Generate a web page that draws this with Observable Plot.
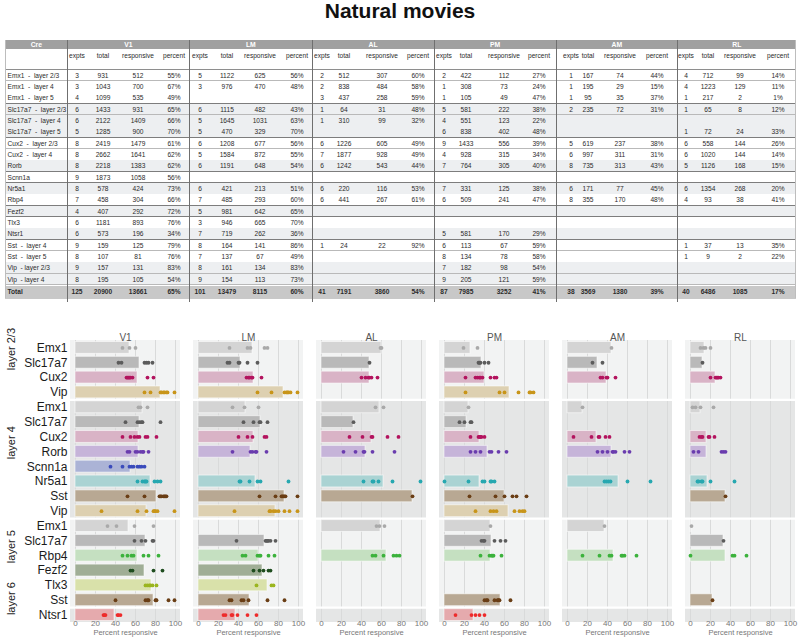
<!DOCTYPE html>
<html><head><meta charset="utf-8">
<script src="https://cdn.jsdelivr.net/npm/d3@7"></script>
<script src="https://cdn.jsdelivr.net/npm/@observablehq/plot@0.6"></script>
<style>
html,body{margin:0;padding:0;width:800px;height:637px;overflow:hidden;background:#fff;font-family:"Liberation Sans",Arial,Helvetica,sans-serif;}
#title{position:absolute;left:0;top:0;width:800px;text-align:center;font-weight:bold;font-size:21px;line-height:22px;color:#111;}
#table{position:absolute;left:0;top:0;width:800px;height:305px;}
#table div{position:absolute;box-sizing:border-box;}
.t{white-space:pre;overflow:visible;}
#chart{position:absolute;left:0;top:305px;}
</style></head><body>
<div id="title">Natural movies</div>
<div id="table"></div>
<div id="chart"></div>
<script>
// ---------------- DATA ----------------
const areas = ["V1", "LM", "AL", "PM", "AM", "RL"];
const subHeaders = ["expts", "total", "responsive", "percent"];

// table rows (table order)
const tableCre = ["Emx1  -  layer 2/3","Emx1  -  layer 4","Emx1  -  layer 5","Slc17a7  -  layer 2/3","Slc17a7  -  layer 4","Slc17a7  -  layer 5","Cux2  -  layer 2/3","Cux2  -  layer 4","Rorb","Scnn1a","Nr5a1","Rbp4","Fezf2","Tlx3","Ntsr1","Sst  -  layer 4","Sst  -  layer 5","Vip  - layer 2/3","Vip  - layer 4"];
// [expts, total, responsive, percent]
const tableV1 = [[3,931,512,55],[3,1043,700,67],[4,1099,535,49],[6,1433,931,65],[6,2122,1409,66],[5,1285,900,70],[8,2419,1479,61],[8,2662,1641,62],[8,2218,1383,62],[9,1873,1058,56],[8,578,424,73],[7,458,304,66],[4,407,292,72],[6,1181,893,76],[6,573,196,34],[9,159,125,79],[8,107,81,76],[9,157,131,83],[8,195,105,54]];
const tableLM = [[5,1122,625,56],[3,976,470,48],null,[6,1115,482,43],[5,1645,1031,63],[5,470,329,70],[6,1208,677,56],[5,1584,872,55],[6,1191,648,54],null,[6,421,213,51],[7,485,293,60],[5,981,642,65],[3,946,665,70],[7,719,262,36],[8,164,141,86],[7,137,67,49],[8,161,134,83],[9,154,113,73]];
const tableAL = [[2,512,307,60],[2,838,484,58],[3,437,258,59],[1,64,31,48],[1,310,99,32],null,[6,1226,605,49],[7,1877,928,49],[6,1242,543,44],null,[6,220,116,53],[6,441,267,61],null,null,null,[1,24,22,92],null,null,null];
const tablePM = [[2,422,112,27],[1,308,73,24],[1,105,49,47],[5,581,222,38],[4,551,123,22],[6,838,402,48],[9,1433,556,39],[4,928,315,34],[7,764,305,40],null,[7,331,125,38],[6,509,241,47],null,null,[5,581,170,29],[6,113,67,59],[8,134,78,58],[7,182,98,54],[9,205,121,59]];
const tableAM = [[1,167,74,44],[1,195,29,15],[1,95,35,37],[2,235,72,31],null,null,[5,619,237,38],[6,997,311,31],[8,735,313,43],null,[6,171,77,45],[8,355,170,48],null,null,null,null,null,null,null];
const tableRL = [[4,712,99,14],[4,1223,129,11],[1,217,2,1],[1,65,8,12],null,[1,72,24,33],[6,558,144,26],[6,1020,144,14],[5,1126,168,15],null,[6,1354,268,20],[4,93,38,41],null,null,null,[1,37,13,35],[1,9,2,22],null,null];
const tableTotals = [[125,20900,13661,65],[101,13479,8115,60],[41,7191,3860,54],[87,7985,3252,41],[38,3569,1380,39],[40,6486,1085,17]];

// chart rows (chart order)
const rowCre = ["Emx1","Slc17a7","Cux2","Vip","Emx1","Slc17a7","Cux2","Rorb","Scnn1a","Nr5a1","Sst","Vip","Emx1","Slc17a7","Rbp4","Fezf2","Tlx3","Sst","Ntsr1"];
const layerNames = ["layer 2/3", "layer 4", "layer 5", "layer 6"];
const layerRowCounts = [4, 8, 6, 1];

// mean percent responsive (bar) per chart row
const barsV1 = [54,64,62,85,67,64,63,63,55,75,81,71,53,70,62,69,76,78,39];
const barsLM = [54,42,55,85,47,62,55,52,null,57,86,77,null,66,60,64,69,51,37];
const barsAL = [60,48,48,null,58,32,50,44,null,62,91,null,59,null,65,null,null,null,null];
const barsPM = [26,37,40,65,24,22,35,43,null,35,60,64,46,47,46,null,null,56,29];
const barsAM = [44,30,39,null,15,null,29,44,null,51,null,null,37,null,46,null,null,null,null];
const barsRL = [14,12,25,null,10,null,16,16,null,17,35,null,1,33,35,null,null,22,null];

// per-experiment percent responsive (dots) per chart row
const dotsV1 = [[47,54,60],[43,46,69,71,73,77],[51,52,53,54,55,57,72,78],[69,75,85,86,88,89,91,92,99],[63,65,72],[50,62,64,66,67,85],[47,55,59,62,64,70,72,81],[52,54,60,62,65,67,68,73],[35,47,54,56,58,62,64,66,69],[62,67,69,70,71,79,82,85],[52,69,84,85,86,88,89,90,91],[26,62,71,78,79,80,82,99],[32,41,59,78],[59,66,70,77,78],[47,52,56,58,68,73,83],[55,57,78,87],[70,72,74,75,77,81],[40,70,72,73,80,81,93,99],[28,29,30,42,43,45]];
const dotsLM = [[31,49,52,66,69],[29,31,40,41,49,59],[48,50,51,53,54,63],[59,73,86,88,89,90,92,99],[34,46,60],[45,55,61,62,69],[40,49,54,66,68],[34,52,54,57,58,68],[],[41,42,51,59,62,90],[61,77,83,84,85,86,87,99],[36,71,72,75,77,80,86,91,99],[],[38,67,68,69,70,72,77],[44,47,59,61,62,70,76],[55,61,65,70,72],[58,73,75],[31,33,43,45,50,69,86],[25,27,33,34,39,49,58]];
const dotsAL = [[59,60],[48],[40,44,47,48,50,56],[],[54,62],[32],[28,41,50,51,66,77],[22,34,42,43,51,73],[],[42,51,52,57,71,99],[91],[],[55,58,63],[],[51,54,62,72,75,78],[],[],[],[]];
const dotsPM = [[19,33],[34,35,36,40,44],[21,31,33,35,36,38,46,50,52],[21,55,60,74,85,86,89],[24],[15,20,26,27],[26,34,35,36,37,40],[26,31,36,45,47,54,62],[],[0,24,38,40,46,47,50],[25,51,60,68,72,82],[31,46,49,52,70,75,78,80],[46],[37,39,40,50,56,61],[36,45,47,48,49,57],[],[],[40,42,43,50,53,54,55,66],[11,27,31,35,40]];
const dotsAM = [[44],[25,35],[33,35,39,40,48],[],[15],[],[6,24,31,32,38,42],[30,35,40,45,46,48,57,62],[],[37,39,41,43,60,83],[],[],[37],[],[15,32,42,44,54,55,57,69],[],[],[],[]];
const dotsRL = [[10,13,15,20],[12],[20,25,26,27,28,30],[],[2,5,10,23],[],[9,11,12,18,19,24],[3,8,31,33,35],[],[7,8,11,12,20,44],[35],[],[1],[33],[0,42,44,56],[],[],[22],[]];

const xTicks = [0, 20, 40, 60, 80, 100];

// ---------------- STYLES ----------------
const creNames = ["Emx1","Slc17a7","Cux2","Vip","Rorb","Scnn1a","Nr5a1","Sst","Rbp4","Fezf2","Tlx3","Ntsr1"];
const creColors = ["#a9a9a9","#5c5c5c","#b3135e","#c8951a","#6a3cae","#3a4bbb","#27a8b0","#6a3e15","#3cb23c","#1f4d1f","#9bb51f","#ee2b2b"];
const creBarColors = ["#d4d4d4","#b9b9b9","#d9b3c6","#ddd0b1","#c6b4d9","#abb3d6","#aad3d3","#b8a893","#c5e0c1","#a0ae96","#d9e1aa","#e5aaad"];
const layerFills = ["#f2f3f3","#e5e6e6","#f2f3f3","#e5e6e6"];
const colorOf = c => creColors[creNames.indexOf(c)];
const barColorOf = c => creBarColors[creNames.indexOf(c)];

// ---------------- TABLE ----------------
const tableAreas = [tableV1, tableLM, tableAL, tablePM, tableAM, tableRL];
const divX = [67.7, 189.3, 312.3, 434, 556, 677.7];
const subX = [[77,103,138,174],[200,227,260,297],[322,344,382,418],[444,466,504,539],[571,588,620,657],[686,708,740,778]];
const tLeft = 5, tRight = 796;
const tbl = document.getElementById("table");
function el(css, text, cls) {
  const d = document.createElement("div");
  if (cls) d.className = cls;
  Object.assign(d.style, css);
  if (text != null) d.textContent = text;
  tbl.appendChild(d);
  return d;
}
function box(x, y, w, h, bg) {
  return el({left: x + "px", top: y + "px", width: w + "px", height: h + "px", background: bg});
}
function label(x, y, s, o = {}) {
  const align = o.align || "center", w = 100;
  const left = align === "center" ? x - w / 2 : align === "left" ? x : x - w;
  return el({left: left + "px", top: (y - 5) + "px", width: w + "px", height: "10px", lineHeight: "10px",
    textAlign: align, color: o.color || "#2b2b2b", fontWeight: o.bold ? "bold" : "normal",
    fontSize: (o.size || 6.6) + "px"}, s, "t");
}
const rowH = 11.33, rowTop0 = 69.7;
// header 1
box(tLeft, 40, tRight - tLeft, 9.2, "#a0a0a0");
label((tLeft + divX[0]) / 2, 44.6, "Cre", {color: "#fff", bold: true, size: 6.8});
areas.forEach((a, k) => {
  const r = k < 5 ? divX[k + 1] : tRight;
  label((divX[k] + r) / 2, 44.6, a, {color: "#fff", bold: true, size: 6.8});
  subHeaders.forEach((s, j) => label(subX[k][j], 56, s, {size: 6.6}));
});
box(tLeft, rowTop0 - 0.7, tRight - tLeft, 1, "#8e8e8e");
// data rows
const groupKey = tableCre.map(s => s.split(" ")[0]);
let g = 0;
const groupIdx = groupKey.map((c, i) => (i > 0 && c !== groupKey[i - 1] ? ++g : g));
tableCre.forEach((c, i) => {
  const top = rowTop0 + i * rowH;
  box(tLeft, top, tRight - tLeft, rowH, groupIdx[i] % 2 ? "#edeff1" : "#ffffff");
  const boundary = i < tableCre.length - 1 && groupIdx[i + 1] !== groupIdx[i];
  box(tLeft, top + rowH - 0.6, tRight - tLeft, boundary ? 1.2 : 0.9, boundary ? "#7d7d7d" : "#b9b9b9");
  const cy = top + rowH / 2 + 0.2;
  label(tLeft + 2.5, cy, c, {align: "left", size: 6.6});
  tableAreas.forEach((arr, k) => {
    const v = arr[i];
    if (!v) return;
    v.forEach((val, j) => label(subX[k][j], cy, j === 3 ? val + "%" : String(val), {size: 6.6}));
  });
});
// total row
const totTop = rowTop0 + tableCre.length * rowH + 0.6;
box(tLeft, totTop, tRight - tLeft, 13.6, "#c8c8c8");
label(tLeft + 2.5, totTop + 6.8, "Total", {align: "left", bold: true, size: 6.6});
tableTotals.forEach((v, k) => v.forEach((val, j) =>
  label(subX[k][j], totTop + 6.8, j === 3 ? val + "%" : String(val), {bold: true, size: 6.6})));
// vertical dividers
divX.forEach(x => box(x - 0.5, 40, 1.1, 262, "#6f6f6f"));
box(tLeft, 40, 0.8, 258.4, "#bdbdbd");
box(tRight - 0.8, 40, 0.8, 258.4, "#bdbdbd");

// ---------------- CHART ----------------
const barsByArea = [barsV1, barsLM, barsAL, barsPM, barsAM, barsRL];
const dotsByArea = [dotsV1, dotsLM, dotsAL, dotsPM, dotsAM, dotsRL];
const barData = [], dotData = [];
areas.forEach((a, k) => {
  barsByArea[k].forEach((v, i) => { if (v != null) barData.push({area: a, row: i, value: v, cre: rowCre[i]}); });
  dotsByArea[k].forEach((vals, i) => vals.forEach(v => dotData.push({area: a, row: i, value: v, cre: rowCre[i]})));
});
let s0 = 0;
const layerGroups = layerNames.map((name, j) => {
  const o = {layer: name, start: s0, end: s0 + layerRowCounts[j] - 1, fill: layerFills[j]};
  s0 += layerRowCounts[j];
  return o;
});
const rowsLabeled = rowCre.map((c, i) => ({c, i}));

const chart = Plot.plot({
  width: 800, height: 332,
  marginLeft: 69, marginRight: 4, marginTop: 35, marginBottom: 15,
  style: {fontFamily: "Liberation Sans, Arial, Helvetica, sans-serif", background: "transparent", overflow: "visible"},
  fx: {domain: areas, paddingInner: 0.109, paddingOuter: 0, axis: null, label: null},
  x: {domain: [-5, 105], axis: null},
  y: {domain: [-0.5, rowCre.length - 0.5], reverse: true, axis: null},
  color: {type: "identity"},
  marks: [
    Plot.rect(layerGroups, {y1: d => d.start - 0.5, y2: d => d.end + 0.5, fill: d => d.fill}),
    Plot.ruleX(xTicks, {x: d => d, stroke: "#d9dada", strokeWidth: 1}),
    Plot.ruleY(layerGroups.slice(1), {y: d => d.start - 0.5, stroke: "#ffffff", strokeWidth: 2.2}),
    Plot.rect(barData, {fx: "area", x1: d => 0, x2: "value", y1: d => d.row - 0.4, y2: d => d.row + 0.4,
      fill: d => barColorOf(d.cre), stroke: "#ffffff", strokeOpacity: 0.55, strokeWidth: 1}),
    Plot.dot(dotData, {fx: "area", x: "value", y: "row", r: 1.9, fill: d => colorOf(d.cre)}),
    Plot.text(rowsLabeled, {fx: d => areas[0], y: "i", text: "c", frameAnchor: "left", textAnchor: "end",
      dx: -3, fontSize: 12, fill: "#1b1b1b"}),
    Plot.text(layerGroups, {fx: d => areas[0], y: d => (d.start + d.end) / 2, text: "layer", frameAnchor: "left",
      dx: -59, rotate: -90, fontSize: 11, fill: "#1b1b1b"}),
    Plot.text(areas, {fx: d => d, text: d => d, frameAnchor: "top", lineAnchor: "bottom", dy: 0.5,
      fontSize: 10, fill: "#555"}),
    Plot.text(xTicks, {x: d => d, text: d => String(d), frameAnchor: "bottom", dy: 3.6, fontSize: 8, fill: "#777"}),
    Plot.text(["Percent responsive"], {text: d => d, frameAnchor: "bottom", dy: 12.2, fontSize: 7.5, fill: "#777"})
  ]
});
document.getElementById("chart").appendChild(chart);
</script></body></html>
